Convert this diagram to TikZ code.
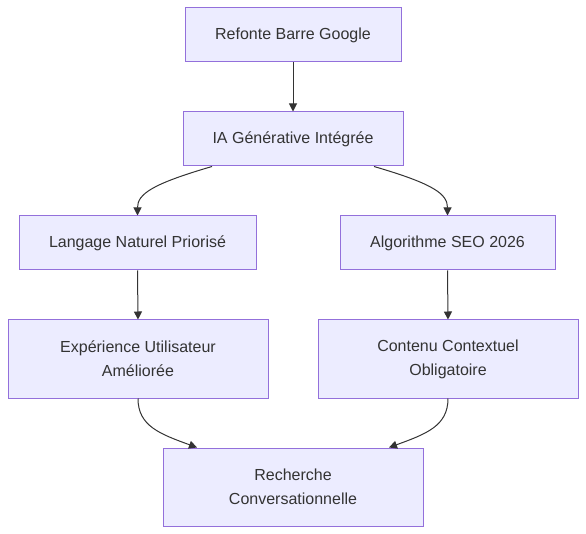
\documentclass[tikz,border=0pt]{standalone}
\usepackage{fontspec}
\setmainfont{Liberation Sans}
\usetikzlibrary{arrows.meta}
\definecolor{boxfill}{HTML}{ECECFF}
\definecolor{boxline}{HTML}{9370DB}
\definecolor{ink}{HTML}{333333}
\tikzset{
  box/.style={draw=boxline, fill=boxfill, line width=1pt, rectangle,
    text=ink, align=center, inner sep=0pt,
    font=\fontsize{16}{24}\selectfont},
  arr/.style={draw=ink, line width=1pt, -{Triangle[length=8pt,width=8pt]}}
}
\begin{document}
\begin{tikzpicture}[x=1pt,y=-1pt]
\useasboundingbox (0,0) rectangle (586,534);
% boxes
\node[box, minimum width=216pt, minimum height=54pt] (refonte) at (293,35) {Refonte Barre Google};
\node[box, minimum width=220pt, minimum height=54pt] (ia) at (293,139) {IA Générative Intégrée};
\node[box, minimum width=237pt, minimum height=54pt] (langage) at (137.5,243) {Langage Naturel Priorisé};
\node[box, minimum width=215pt, minimum height=54pt] (algo) at (447.5,243) {Algorithme SEO 2026};
\node[box, minimum width=260pt, minimum height=78pt] (experience) at (138,359) {Expérience Utilisateur\\Améliorée};
\node[box, minimum width=260pt, minimum height=78pt] (contenu) at (448,359) {Contenu Contextuel\\Obligatoire};
\node[box, minimum width=260pt, minimum height=78pt] (recherche) at (293,487) {Recherche\\Conversationnelle};
% links
\draw[arr] (refonte.south) -- (ia.north);
\draw[arr] ([xshift=-81pt]ia.south) .. controls (152,184) and (137.5,194) .. (langage.north);
\draw[arr] ([xshift=81pt]ia.south) .. controls (434,184) and (447.5,194) .. (algo.north);
\draw[arr] (langage.south) -- (experience.north);
\draw[arr] (algo.south) -- (contenu.north);
\draw[arr] (experience.south) .. controls (138,426) and (160,434) .. ([xshift=-96pt]recherche.north);
\draw[arr] (contenu.south) .. controls (448,426) and (426,434) .. ([xshift=96pt]recherche.north);
\end{tikzpicture}
\end{document}
